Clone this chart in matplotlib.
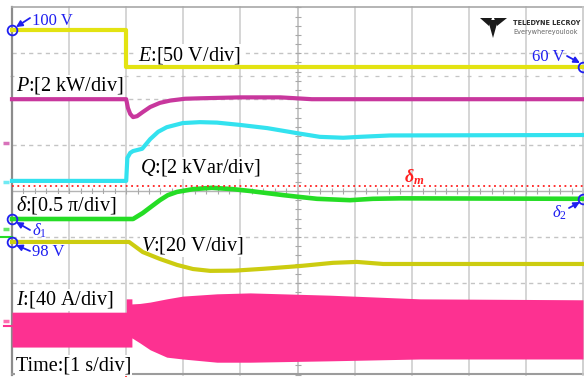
import numpy as np
import matplotlib.pyplot as plt
import matplotlib as mpl
from matplotlib.patches import Polygon

mpl.rcParams['font.family'] = 'Liberation Serif'
mpl.rcParams['mathtext.fontset'] = 'custom'
mpl.rcParams['mathtext.rm'] = 'Liberation Serif'
mpl.rcParams['mathtext.it'] = 'Liberation Serif:italic'
mpl.rcParams['mathtext.bf'] = 'Liberation Serif:bold:italic'

# scope screen geometry (pixels)
W, H = 584, 377
X0, XD = 12.0, 57.1    # left edge of grid, px per time div
Y0, YD = 191.0, 45.9   # centre line, px per vertical div

# ---- traces: time in s (1 s/div) ----
# DC-link voltage E, 50 V/div
t_E = [0, 2.0, 2.0, 10]
E_volt = [100, 100, 60, 60]
E_OFF = -75.4

# active power P (div, 2 kW/div)
t_P = [0, 2.0, 2.03, 2.07, 2.12, 2.19, 2.29, 2.42, 2.59, 2.77, 3.03, 3.3, 4.0, 4.7, 5.25, 10]
P_div = [2.00, 2.00, 1.81, 1.68, 1.61, 1.63, 1.72, 1.83, 1.92, 1.97, 2.01, 2.02, 2.04, 2.04, 2.00, 2.00]

# reactive power Q (div, 2 kVar/div)
t_Q = [0, 2.0, 2.02, 2.07, 2.12, 2.28, 2.42, 2.56, 2.71, 2.99, 3.29, 3.59, 3.99, 4.47,
       5.04, 5.39, 5.80, 6.09, 6.62, 10]
Q_div = [0.22, 0.22, 0.72, 0.83, 0.87, 0.92, 1.13, 1.29, 1.39, 1.48, 1.50, 1.49, 1.44, 1.37,
         1.25, 1.18, 1.16, 1.18, 1.21, 1.22]

# power angle delta (div, 0.5 pi/div) and its limit delta_m
t_D = [0, 2.12, 2.29, 2.45, 2.59, 2.73, 2.89, 3.17, 3.5, 3.87, 4.17, 4.75, 5.04, 5.34,
       5.92, 6.32, 6.80, 10]
D_div = [-0.61, -0.61, -0.48, -0.33, -0.20, -0.09, -0.02, 0.04, 0.07, 0.04, 0.00, -0.09,
         -0.13, -0.17, -0.20, -0.17, -0.16, -0.17]
Dm_div = 0.11

# output voltage V, 20 V/div
t_V = [0, 2.05, 2.29, 2.59, 2.89, 3.17, 3.47, 3.9, 4.4, 5.04, 5.62, 6.04, 6.50, 10]
V_volt = [98, 98, 93.6, 90.6, 88.0, 86.2, 85.4, 85.5, 86.3, 87.5, 88.9, 89.3, 88.4, 88.4]
V_OFF = 120.2

# current I envelope (div, 40 A/div)
t_I = [0, 2.0, 2.0, 2.1, 2.1, 2.24, 2.42, 2.71, 2.99, 3.59, 4.17, 5.57, 7.15, 10]
I_top = [-2.64, -2.64, -2.35, -2.35, -2.46, -2.45, -2.42, -2.35, -2.29, -2.24, -2.22,
         -2.27, -2.35, -2.37]
I_bot = [-3.40, -3.40, -3.40, -3.40, -3.20, -3.31, -3.46, -3.62, -3.66, -3.73, -3.73,
         -3.70, -3.66, -3.66]

c_E = '#e3e312'
c_P = '#c8379d'
c_Q = '#33e2ef'
c_D = '#25dd25'
c_V = '#cccc10'
c_I = '#fd3191'
c_blue = '#1f1ff0'
c_red = '#ff2020'


def px(x, y):
    return (x - X0) / XD, (Y0 - y) / YD


E_div = (np.array(E_volt) - E_OFF) / 50.0
V_div = (np.array(V_volt) - V_OFF) / 20.0

fig = plt.figure(figsize=(W / 100, H / 100), dpi=100)
ax = fig.add_axes([0, 0, 1, 1])
ax.axis('off')
ax.set_xlim(-X0 / XD, (W - X0) / XD)
ax.set_ylim((Y0 - H) / YD, Y0 / YD)

# grid
for k in range(1, 10):
    ax.plot([k, k], [-4, 4], color='#d2d2d2', lw=1.3, zorder=1)
for k in [-3, -2, -1, 1, 2, 3]:
    ax.plot([0, 10], [k, k], color='#c4c4c4', lw=1.0, ls=(0, (3, 3)), zorder=1)
ax.plot([0, 10], [0, 0], color='#b4b4b4', lw=1.0, zorder=1)
ticks = np.arange(0, 10.01, 0.2)
ax.plot(ticks, np.zeros_like(ticks), ls='none', marker='|', ms=4, mew=0.8,
        color='#a8a8a8', zorder=1)
ax.plot(ticks, np.full_like(ticks, 2.5), ls='none', marker='_', ms=3, mew=0.9,
        color='#c4c4c4', zorder=1)
vt = np.arange(-4, 4.01, 0.2)
ax.plot([5, 5], [-4, 4], color='#c8c8c8', lw=1.3, zorder=1)
ax.plot(np.full_like(vt, 5), vt, ls='none', marker='_', ms=4, mew=0.8,
        color='#a8a8a8', zorder=1)

# frame
ax.plot([0, 0], [-4, 4.01], color='#8c8c8c', lw=1.6, zorder=1)
ax.plot([0, 10.2], [4.01, 4.01], color='#a8a8a8', lw=1.2, zorder=1)
ax.plot([0, 10.2], [-3.99, -3.99], color='#9c9c9c', lw=1.5, zorder=1)
ax.plot([10, 10], [-4, 4], color='#c8c8c8', lw=1.2, zorder=1)
ax.plot([2.0, 2.0], [-3.99, -4.06], color=c_red, lw=1.2, zorder=1)

# channel markers on the left edge
for y, c in [(1.05, c_P), (0.2, c_Q), (-0.83, c_D), (-2.83, c_I)]:
    ax.plot([px(3, 0)[0], px(9, 0)[0]], [y, y], color=c, lw=2.5, alpha=0.7,
            solid_capstyle='butt', zorder=2, clip_on=False)
ax.plot([px(0, 0)[0], 0], [-1.0, -1.0], color=c_D, lw=1.5, zorder=2, clip_on=False)
ax.plot([px(4, 0)[0], 0], [-2.94, -2.94], color=c_I, lw=1.5, zorder=2, clip_on=False)

# traces
ax.fill_between(t_I, I_bot, I_top, color=c_I, lw=0, zorder=3)
ax.plot(t_E, E_div, color=c_E, lw=3, zorder=3)
ax.plot(t_P, P_div, color=c_P, lw=3, zorder=3)
ax.plot(t_Q, Q_div, color=c_Q, lw=3, zorder=3)
ax.plot(t_D, D_div, color=c_D, lw=3.3, zorder=3)
ax.plot(t_V, V_div, color=c_V, lw=3, zorder=3)
ax.plot([0, 10.2], [Dm_div, Dm_div], color=c_red, lw=1.3, ls=(0, (1, 2)), zorder=3)

# channel labels
box = dict(facecolor='white', edgecolor='none', pad=0.5)
labels = [
    (r'$E$:[50 V/div]', 138, 60),
    (r'$P$:[2 kW/div]', 16, 91),
    (r'$Q$:[2 kVar/div]', 140, 173),
    (r'$\delta$:[0.5 π/div]', 16, 211),
    (r'$V$:[20 V/div]', 141, 251),
    (r'$I$:[40 A/div]', 16, 305),
    ('Time:[1 s/div]', 16, 370),
]
for s, x, y in labels:
    ax.text(*px(x, y), s, fontsize=14.5, ha='left', va='baseline', color='black',
            bbox=box, zorder=2)

ax.text(*px(414, 177), r'$\mathbf{\delta_m}$', fontsize=13, color=c_red,
        ha='center', va='center', zorder=4)

# blue markers at start / end points
circ = dict(ls='none', marker='o', ms=7, mfc='none', mec=c_blue, mew=1.3,
            zorder=5, clip_on=False)
ax.plot(t_E[0], E_div[0], **circ)
ax.plot(t_E[-1], E_div[-1], **circ)
ax.plot(t_D[0], D_div[0], **circ)
ax.plot(t_D[-1], D_div[-1], **circ)
ax.plot(t_V[0], V_div[0], **circ)

arrow = dict(arrowstyle='-|>', color=c_blue, lw=1.3, mutation_scale=9,
             shrinkA=0, shrinkB=0)
notes = [
    (f'{E_volt[0]} V', 32, 21, 'left', (30, 18), (16, 27)),
    (f'{E_volt[-1]} V', 565, 57, 'right', (567, 56), (580, 63)),
    (r'$\delta_1$', 32, 231, 'left', (30, 230), (16, 222)),
    (f'{V_volt[0]} V', 32, 252, 'left', (30, 251), (16, 245)),
    (r'$\delta_2$', 567, 213, 'right', (569, 208), (580, 202)),
]
for s, x, y, ha, p0, p1 in notes:
    ax.text(*px(x, y), s, fontsize=12, color=c_blue, ha=ha, va='center', zorder=5)
    ax.annotate('', xy=px(*p1), xytext=px(*p0), arrowprops=arrow, zorder=5,
                annotation_clip=False)

# scope logo
for pts in [[(480, 18), (492, 18), (489, 26)],
            [(494, 18), (507, 18), (497, 26)],
            [(488, 20), (498, 20), (493, 38)]]:
    ax.add_patch(Polygon([px(*p) for p in pts], closed=True, color='#1a1a1a',
                         lw=0, zorder=4))
ax.text(*px(513, 23), 'TELEDYNE LECROY', fontsize=4.7, family='DejaVu Sans',
        weight='bold', color='#2a2a2a', ha='left', va='center', zorder=4)
ax.text(*px(513, 32), 'Everywhereyoulook', fontsize=4.7, family='DejaVu Sans',
        color='#666666', ha='left', va='center', zorder=4)

fig.savefig('out.png', dpi=100)
